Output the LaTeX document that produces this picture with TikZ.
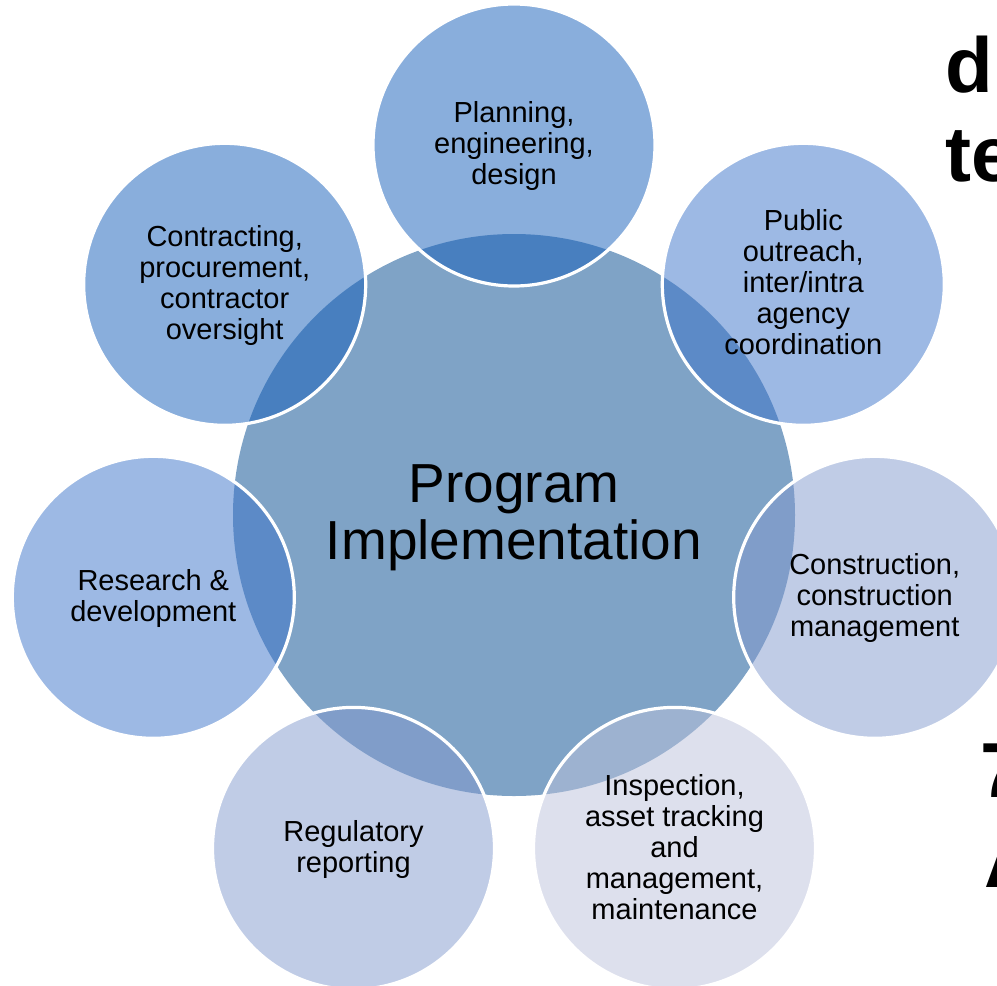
\documentclass[tikz,border=0pt]{standalone}
\usepackage{fontspec}
\setmainfont{Liberation Sans}
\definecolor{hubc}{RGB}{127,163,198}
\definecolor{sA}{RGB}{19,93,185}
\definecolor{sB}{RGB}{59,115,201}
\definecolor{sC}{RGB}{129,153,205}
\definecolor{sD}{RGB}{187,193,219}
\newcommand\mytxt[2]{\raisebox{#1}[\height][\depth]{\begin{tabular}{@{}c@{}}#2\end{tabular}}}
\begin{document}
\begin{tikzpicture}[x=0.5pt,y=-0.5pt,
  hub/.style={circle, fill=hubc, inner sep=0pt, minimum size=281pt, align=center,
    font=\fontsize{27.5}{28.5}\selectfont},
  sat/.style={circle, draw=white, line width=1.6pt, fill opacity=0.5, text opacity=1,
    inner sep=0pt, minimum size=141pt, align=center,
    font=\fontsize{14.5}{15.5}\selectfont},
  frag/.style={anchor=base west, inner sep=0pt, font=\fontsize{39}{44}\selectfont\bfseries}
]
\useasboundingbox (0,0) rectangle (997,986);
\begin{scope}
\clip (0,0) rectangle (997,986);
\node[hub] (hub) at (514,515) {\mytxt{-2.5pt}{Program\\Implementation}};
\node[sat, fill=sA] (plan) at (514,145) {\mytxt{-1.2pt}{Planning,\\engineering,\\design}};
\node[sat, fill=sB] (pub) at (803.3,284.3) {\mytxt{-1.2pt}{Public\\outreach,\\inter/intra\\agency\\coordination}};
\node[sat, fill=sC] (cons) at (874.7,597.3) {\mytxt{-1.2pt}{Construction,\\construction\\management}};
\node[sat, fill=sD] (insp) at (674.5,848.4) {\mytxt{-1.2pt}{Inspection,\\asset tracking\\and\\management,\\maintenance}};
\node[sat, fill=sC] (reg) at (353.5,848.4) {\mytxt{-1.2pt}{Regulatory\\reporting}};
\node[sat, fill=sB] (res) at (153.3,597.3) {\mytxt{-1.2pt}{Research \&\\development}};
\node[sat, fill=sA] (con) at (224.7,284.3) {\mytxt{-1.2pt}{Contracting,\\procurement,\\contractor\\oversight}};
\node[frag] (fd) at (945,92) {d};
\node[frag] (fte) at (945,181) {te};
\node[frag] (f7) at (980,797) {7};
\node[frag] (fA) at (984,887) {A};
\end{scope}
\end{tikzpicture}
\end{document}
